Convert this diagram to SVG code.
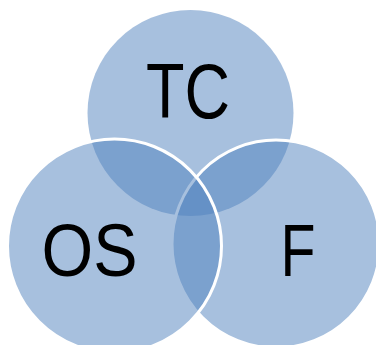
<svg xmlns="http://www.w3.org/2000/svg" width="376" height="345" viewBox="0 0 376 345">
<style>
.c{fill:#4F81BD;fill-opacity:0.5}
.s{stroke:#FFFFFF;stroke-width:3}
.t{font-family:"Liberation Sans",Arial,sans-serif;fill:#000;text-anchor:middle}
</style>
<rect width="376" height="345" fill="#FFFFFF"/>
<g id="tc">
<circle class="c" cx="190.5" cy="113" r="103"/>
</g>
<g id="f">
<circle class="c s" cx="276" cy="244" r="104"/>
</g>
<g id="os">
<circle class="c s" cx="114.5" cy="246" r="107"/>
</g>
<g id="labels">
<text class="t" x="188" y="118" font-size="78" textLength="84" lengthAdjust="spacingAndGlyphs">TC</text>
<text class="t" x="89.5" y="276" font-size="75" textLength="96" lengthAdjust="spacingAndGlyphs">OS</text>
<text class="t" x="298" y="276" font-size="75" textLength="35" lengthAdjust="spacingAndGlyphs">F</text>
</g>
</svg>
